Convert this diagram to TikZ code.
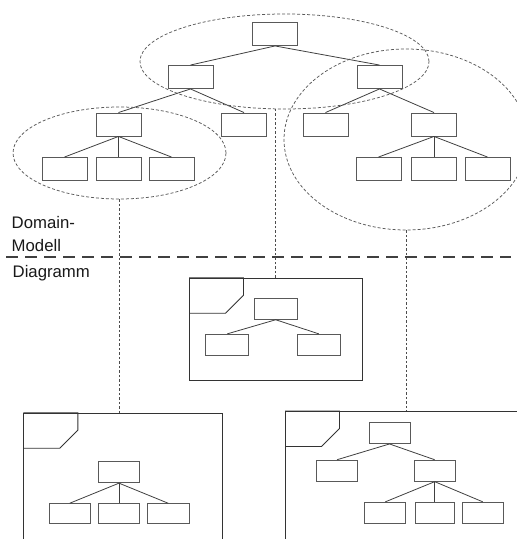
\documentclass[tikz,border=0pt]{standalone}
\usepackage{fontspec}
\setmainfont{Liberation Sans}
\usetikzlibrary{shapes.geometric}

\begin{document}
\begin{tikzpicture}[x=1bp,y=-1bp,
  box/.style={draw=black!65, line width=0.9bp, minimum width=45bp, minimum height=23bp, inner sep=0},
  sbox/.style={box, minimum width=41bp, minimum height=21bp},
  link/.style={draw=black!75, line width=0.8bp},
  group/.style={ellipse, draw=black!65, dash pattern=on 3bp off 2bp, line width=0.75bp, inner sep=0},
  trace/.style={draw=black!70, dash pattern=on 2.5bp off 2bp, line width=0.75bp},
  frame/.style={draw=black!80, line width=0.9bp, rectangle, inner sep=0, anchor=north west},
  tab/.style={draw=black!80, line width=0.9bp},
  divider/.style={draw=black!75, line width=1.8bp, dash pattern=on 12bp off 7bp},
  caption/.style={font=\fontsize{16.8}{22.4}\selectfont, text=black!90, inner sep=0, align=left, anchor=north west}
]
\useasboundingbox (0,0) rectangle (517,539);
\clip (0,0) rectangle (517,539);

% ---------- domain model tree ----------
\node[box] (r)   at (275,34) {};
\node[box] (a)   at (190.5,77) {};
\node[box] (b)   at (379.5,77) {};
\node[box] (aa)  at (118.5,124.5) {};
\node[box] (ab)  at (244,124.5) {};
\node[box] (ba)  at (325.5,124.5) {};
\node[box] (bb)  at (434,124.5) {};
\node[box] (aaa) at (64.5,169) {};
\node[box] (aab) at (118.5,169) {};
\node[box] (aac) at (171.5,169) {};
\node[box] (bba) at (378.5,169) {};
\node[box] (bbb) at (434,169) {};
\node[box] (bbc) at (487.5,169) {};

\foreach \p/\c in {r/a, r/b, a/aa, a/ab, b/ba, b/bb,
                   aa/aaa, aa/aab, aa/aac, bb/bba, bb/bbb, bb/bbc}
  \draw[link] (\p.south) -- (\c.north);

% groups of the model shown in each diagram
\node[group, minimum width=289bp, minimum height=95bp]  (ellT) at (284.5,61.5) {};
\node[group, minimum width=213bp, minimum height=92bp]  (ellL) at (119.5,153) {};
\node[group, minimum width=244bp, minimum height=181bp] (ellR) at (406,139.5) {};

% ---------- separator ----------
\coordinate (sepL) at (6,256.7);
\coordinate (sepR) at (511,256.7);
\draw[divider] (sepL) -- (sepR);
\node[caption] (dm) at (11.5,216.5) {Domain-\\Modell};
\node[caption] (dg) at (12.5,265.5) {Diagramm};

% ---------- diagrams ----------
\node[frame, minimum width=172.7bp, minimum height=102.3bp] (frameM) at (189,277.7) {};
\node[frame, minimum width=199bp, minimum height=200bp] (frameL) at (23.3,412.7) {};
\node[frame, minimum width=260bp, minimum height=200bp] (frameR) at (285,411) {};

\foreach \f in {frameM, frameL, frameR}
  \draw[tab] (\f.north west) -- ++(54.5,0) -- ++(0,17.5) -- ++(-18,18) -- ++(-36.5,0);

% middle diagram
\node[sbox, minimum width=43bp] (m0) at (275.7,308.8) {};
\node[sbox, minimum width=43bp] (m1) at (227.3,344.8) {};
\node[sbox, minimum width=43bp] (m2) at (318.8,344.8) {};
\foreach \c in {m1, m2} \draw[link] (m0.south) -- (\c.north);

% left diagram
\node[sbox] (l0) at (119,472.2) {};
\node[sbox, minimum height=20bp] (l1) at (69.7,513.7) {};
\node[sbox, minimum height=20bp] (l2) at (119,513.7) {};
\node[sbox, minimum height=20bp, minimum width=42bp] (l3) at (168.2,513.7) {};
\foreach \c in {l1, l2, l3} \draw[link] (l0.south) -- (\c.north);

% right diagram
\node[sbox] (q0) at (389.5,433) {};
\node[sbox] (q1) at (337,470.7) {};
\node[sbox] (q2) at (434.7,470.7) {};
\node[sbox] (q3) at (385.3,512.8) {};
\node[sbox, minimum width=39bp] (q4) at (434.7,512.8) {};
\node[sbox] (q5) at (482.8,512.8) {};
\foreach \c in {q1, q2} \draw[link] (q0.south) -- (\c.north);
\foreach \c in {q3, q4, q5} \draw[link] (q2.south) -- (\c.north);

% ---------- traces from model groups to diagrams ----------
\draw[trace] (ellL.south) -- (ellL.south |- frameL.north);
\draw[trace] (frameM.north) -- (frameM.north |- ellT.south);
\draw[trace] (ellR.south) -- (ellR.south |- frameR.north);
\end{tikzpicture}
\end{document}
